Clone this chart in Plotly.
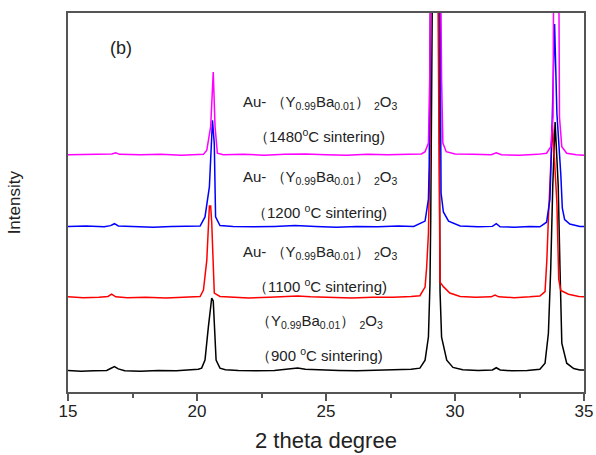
import plotly.graph_objects as go

# XRD patterns: (2theta, intensity above own baseline)
black_pts = [(15.0,0.2),(15.5,0.0),(16.0,0.1),(16.5,0.2),(16.65,0.7),(16.8,1.2),(16.95,0.6),(17.2,0.1),(17.8,0.0),(18.5,0.2),(19.2,0.1),(19.8,0.3),(20.05,0.5),(20.18,0.8),(20.31,2.9),(20.44,11.6),(20.57,19.3),(20.63,18.5),(20.67,11.6),(20.74,2.9),(20.89,0.8),(21.1,0.4),(21.6,0.2),(22.3,0.1),(23.0,0.2),(23.6,0.6),(23.9,0.8),(24.2,0.5),(24.8,0.3),(25.5,0.2),(26.2,0.1),(27.0,0.2),(27.8,0.3),(28.3,0.5),(28.64,0.8),(28.84,2.9),(28.97,9.0),(29.03,23.0),(29.06,40.6),(29.28,250),(29.42,21.0),(29.48,9.0),(29.68,2.9),(29.92,1.0),(30.3,0.4),(30.9,0.2),(31.45,0.3),(31.6,0.9),(31.75,0.3),(32.2,0.1),(32.8,0.2),(33.1,0.3),(33.29,0.5),(33.49,2.1),(33.62,10.0),(33.71,27.0),(33.79,49.0),(33.88,65.7),(34.0,49.0),(34.07,27.0),(34.14,7.4),(34.33,2.1),(34.6,0.7),(34.84,0.3),(35.0,0.3)]
red_pts = [(15.0,0.3),(15.6,0.1),(16.2,0.2),(16.55,0.4),(16.69,1.0),(16.85,0.3),(17.3,0.1),(18.0,0.2),(18.8,0.0),(19.5,0.2),(19.9,0.3),(20.12,0.4),(20.25,2.1),(20.38,10.0),(20.48,24.3),(20.53,24.3),(20.57,20.0),(20.61,10.0),(20.67,1.3),(20.89,0.4),(21.3,0.2),(22.0,0.0),(22.8,0.2),(23.5,0.3),(23.9,0.5),(24.4,0.3),(25.2,0.1),(26.0,0.0),(26.8,0.2),(27.6,0.2),(28.3,0.4),(28.64,0.6),(28.84,2.9),(28.9,8.0),(28.97,17.0),(29.0,26.0),(29.03,39.0),(29.16,250),(29.36,45.0),(29.42,4.2),(29.55,3.0),(29.8,1.3),(30.2,0.4),(30.8,0.2),(31.4,0.3),(31.55,0.8),(31.7,0.3),(32.3,0.1),(32.9,0.3),(33.29,0.5),(33.49,1.7),(33.56,10.0),(33.62,21.0),(33.78,45.6),(33.95,25.0),(34.02,5.0),(34.1,2.0),(34.4,1.0),(34.8,0.4),(35.0,0.3)]
blue_pts = [(15.0,0.2),(15.7,0.3),(16.4,0.1),(16.65,0.4),(16.8,0.9),(16.95,0.3),(17.5,0.2),(18.3,0.0),(19.0,0.2),(19.7,0.3),(20.12,0.3),(20.31,2.7),(20.48,10.6),(20.6,28.2),(20.67,22.0),(20.72,2.7),(20.89,0.4),(21.4,0.2),(22.2,0.1),(23.0,0.2),(23.8,0.4),(24.6,0.2),(25.4,0.0),(26.2,0.2),(27.0,0.1),(27.8,0.3),(28.4,0.2),(28.84,1.6),(28.97,7.4),(29.0,16.0),(29.27,250),(29.46,9.0),(29.55,4.0),(29.75,1.6),(30.2,0.3),(30.9,0.1),(31.45,0.2),(31.6,0.9),(31.75,0.1),(32.3,0.0),(32.9,0.2),(33.29,0.1),(33.55,1.3),(33.68,7.4),(33.74,20.6),(33.86,53.6),(33.95,30.0),(34.1,14.0),(34.16,5.0),(34.25,2.0),(34.45,0.8),(34.84,0.2),(35.0,0.2)]
magenta_pts = [(15.0,0.1),(15.8,0.2),(16.5,0.1),(16.7,0.3),(16.85,0.6),(17.0,0.2),(17.8,0.1),(18.6,0.2),(19.4,0.0),(20.0,0.1),(20.25,0.2),(20.38,1.3),(20.53,7.5),(20.63,21.9),(20.7,7.5),(20.79,0.5),(21.02,0.1),(21.8,0.2),(22.6,0.0),(23.4,0.2),(24.2,0.3),(25.0,0.1),(25.8,0.0),(26.6,0.2),(27.4,0.1),(28.2,0.2),(28.7,0.3),(28.84,0.9),(28.97,3.2),(29.02,20.0),(29.25,200),(29.48,20.0),(29.53,3.2),(29.66,0.9),(30.0,0.3),(30.7,0.2),(31.4,0.1),(31.6,0.6),(31.8,0.1),(32.5,0.0),(33.2,0.2),(33.55,0.5),(33.71,2.2),(33.8,10.0),(33.92,200),(34.05,10.0),(34.14,2.2),(34.33,0.5),(34.7,0.1),(35.0,0.0)]

offsets = [5.5, 24.8, 43.5, 62.5]
colors = ["#000000", "#ff0000", "#0000ff", "#ff00ff"]
series = [black_pts, red_pts, blue_pts, magenta_pts]

formula = "（Y<sub>0.99</sub>Ba<sub>0.01</sub>） <sub>2</sub>O<sub>3</sub>"
label_lines = [
    (formula, "（900 <sup>o</sup>C sintering)"),
    ("Au- " + formula, "（1100 <sup>o</sup>C sintering)"),
    ("Au- " + formula, "（1200 <sup>o</sup>C sintering)"),
    ("Au- " + formula, "（1480<sup>o</sup>C sintering)"),
]
label_y = [(18.5, 9.8), (36.9, 28.2), (56.5, 47.5), (76.3, 67.8)]

FONT = "Liberation Sans, Arial, sans-serif"
fig = go.Figure()
for pts, off, col in zip(series, offsets, colors):
    fig.add_trace(go.Scatter(x=[p[0] for p in pts], y=[p[1] + off for p in pts],
                             mode="lines", line=dict(color=col, width=1.5),
                             showlegend=False, hoverinfo="skip"))

ann = []
for (l1, l2), (y1, y2) in zip(label_lines, label_y):
    ann.append(dict(x=24.75, y=y1, xref="x", yref="y", text=l1, showarrow=False,
                    xanchor="center", yanchor="middle",
                    font=dict(family=FONT, size=15, color="#222")))
    ann.append(dict(x=24.75, y=y2, xref="x", yref="y", text=l2, showarrow=False,
                    xanchor="center", yanchor="middle",
                    font=dict(family=FONT, size=15, color="#222")))
ann.append(dict(x=0.103, y=0.908, xref="paper", yref="paper", text="(b)", showarrow=False,
                xanchor="center", yanchor="middle",
                font=dict(family=FONT, size=18, color="#222")))
ann.append(dict(x=0.5, y=-0.129, xref="paper", yref="paper", text="2 theta degree", showarrow=False,
                xanchor="center", yanchor="middle", font=dict(family=FONT, size=22, color="#222")))
ann.append(dict(x=-0.103, y=0.5, xref="paper", yref="paper", text="Intensity", showarrow=False,
                xanchor="center", yanchor="middle",
                textangle=-90, font=dict(family=FONT, size=17, color="#222")))

fig.update_layout(
    width=596, height=455, autosize=False,
    margin=dict(l=68, r=12, t=13, b=63, autoexpand=False),
    paper_bgcolor="white", plot_bgcolor="white",
    annotations=ann,
    xaxis=dict(range=[15, 35], tick0=15, dtick=5, ticks="outside", ticklen=7, tickwidth=1.5,
               tickcolor="#555", showline=True, linecolor="#555", linewidth=1.5, mirror=True,
               showgrid=False, zeroline=False, ticklabelstandoff=-4, automargin=False,
               tickfont=dict(family=FONT, size=17, color="#222"),
               minor=dict(dtick=2.5, ticks="outside", ticklen=4, tickwidth=1.5, tickcolor="#555")),
    yaxis=dict(range=[0, 100], showticklabels=False, ticks="", showline=True, linecolor="#555",
               linewidth=1.5, mirror=True, showgrid=False, zeroline=False, automargin=False),
)
# remove the page's default body margin so the 596x455 figure fills the window exactly
fig.write_html("out.html", config={"displayModeBar": False},
               post_script="document.body.style.margin='0';document.body.style.overflow='hidden';")
